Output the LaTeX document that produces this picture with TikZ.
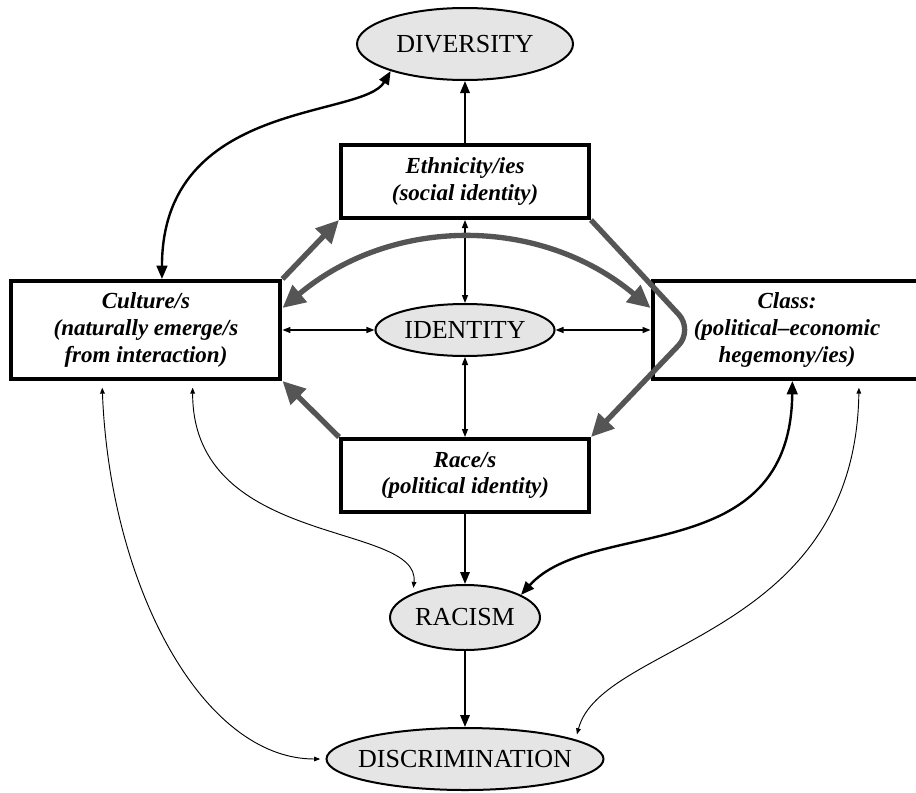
\documentclass[tikz,border=0pt]{standalone}
\usepackage{fontspec}
\setmainfont{Liberation Serif}
\usetikzlibrary{arrows.meta,positioning,shapes.geometric}
\definecolor{OvalGray}{RGB}{229,229,229}
\definecolor{LinkGray}{RGB}{85,85,85}

\begin{document}
\begin{tikzpicture}[x=0.75pt, y=-0.75pt,
  box/.style={draw, line width=3pt, align=center, minimum width=186pt, minimum height=54.75pt, font=\fontsize{17.25}{20}\selectfont\bfseries\itshape},
  widebox/.style={box, minimum width=201.75pt, minimum height=73.5pt},
  oval/.style={draw, ellipse, fill=OvalGray, line width=1.5pt, inner sep=2pt, font=\fontsize{19.5}{22}\selectfont},
  arrowblk/.style={line width=1.6pt, -{Triangle[length=9pt,width=7pt]}},
  arrowduo/.style={line width=1pt, {Triangle[length=6pt,width=4.5pt]}-{Triangle[length=6pt,width=4.5pt]}},
  arrowthin/.style={line width=0.7pt, {Triangle[length=4.5pt,width=3.5pt]}-{Triangle[length=4.5pt,width=3.5pt]}, shorten <=5pt, shorten >=4pt},
  arrowthick/.style={line width=1.8pt, {Triangle[length=10pt,width=8pt]}-{Triangle[length=10pt,width=8pt]}},
  arrowgray/.style={draw=LinkGray, line width=4pt, >={Triangle[length=17pt,width=16pt]}}]
\useasboundingbox (0,0) rectangle (916,792);

\node[oval, minimum width=133.5pt, minimum height=39pt] (ident) at (465,330) {IDENTITY};
\node[box, above=62.25pt of ident] (ethn) {Ethnicity/ies\\(social identity)};
\node[oval, minimum width=162pt, minimum height=54pt, above=46.5pt of ethn] (div) {DIVERSITY};
\node[box, below=60pt of ident] (race) {Race/s\\(political identity)};
\node[oval, minimum width=112.5pt, minimum height=48.75pt, below=52.5pt of race] (rac) {RACISM};
\node[oval, minimum width=207.75pt, minimum height=46.5pt, inner xsep=-8pt, below=57pt of rac] (disc) {DISCRIMINATION};
\node[widebox, left=69pt of ident] (cult) {Culture/s\\(naturally emerge/s\\from interaction)};
\node[widebox, right=71.25pt of ident] (cls) {Class:\\(political–economic\\hegemony/ies)};

\draw[arrowblk] (ethn) -- (div);
\draw[arrowduo] (ethn) -- (ident);
\draw[arrowduo] (race) -- (ident);
\draw[arrowduo] (cult) -- (ident);
\draw[arrowduo] (ident) -- (cls);
\draw[arrowblk] (race) -- (rac);
\draw[arrowblk] (rac) -- (disc);

\draw[arrowthick] ([xshift=12pt]cult.north) .. controls +(0,-180) and +(-28,48) .. (div.200);
\draw[arrowthin] ([xshift=-33pt]cult.south) .. controls +(8,205) and +(-123,0) .. (disc.west);
\draw[arrowthin] ([xshift=35pt]cult.south) .. controls +(0,168) and +(8,-72) .. (rac.155);
\draw[arrowthick] ([xshift=4pt]cls.south) .. controls +(-2,188) and +(70,-78) .. (rac.22);
\draw[arrowthin] ([xshift=54pt]cls.south) .. controls +(-4,258) and +(26,-98) .. (disc.10);

\draw[arrowgray, ->] (cult.north east) -- (ethn.south west);
\draw[arrowgray, ->] (race.north west) -- (cult.south east);
\draw[arrowgray, <->] ([yshift=16.5pt]cult.east) to[bend left=40] ([yshift=16.5pt]cls.west);
\draw[arrowgray, ->, rounded corners=16pt] (ethn.south east) -- ([xshift=32pt]cls.west) -- (race.north east);
\end{tikzpicture}
\end{document}
